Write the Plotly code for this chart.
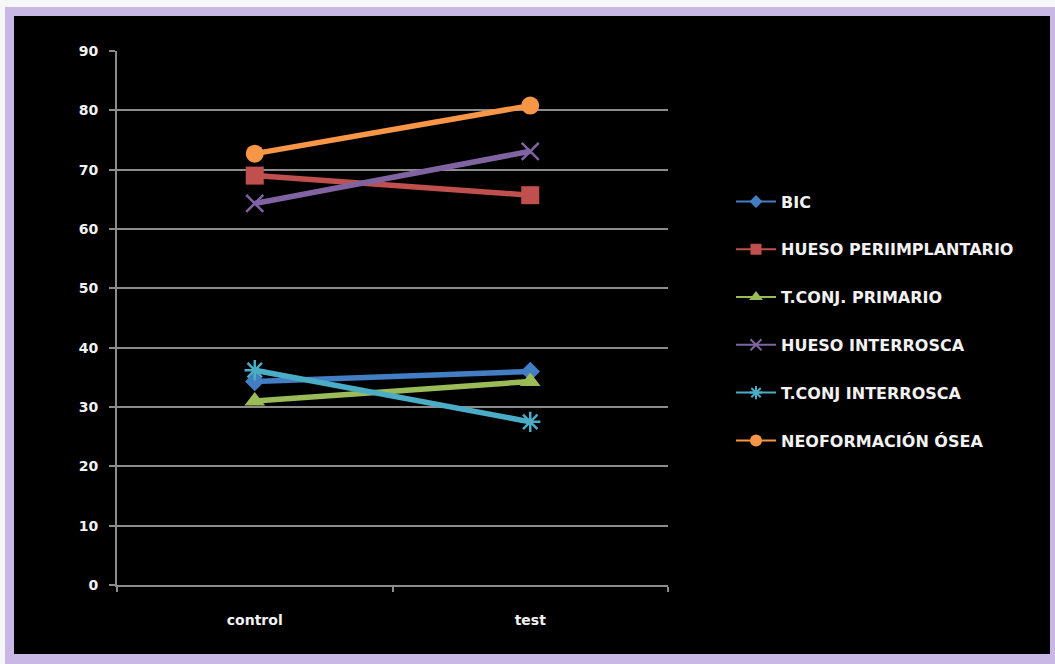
import plotly.graph_objects as go

# Group means for each measured variable
categories = ["control", "test"]
series_names = [
    "BIC",
    "HUESO PERIIMPLANTARIO",
    "T.CONJ. PRIMARIO",
    "HUESO INTERROSCA",
    "T.CONJ INTERROSCA",
    "NEOFORMACIÓN ÓSEA",
]
bic = [34.3, 36.0]
hueso_periimplantario = [69.0, 65.7]
tconj_primario = [31.0, 34.3]
hueso_interrosca = [64.3, 73.1]
tconj_interrosca = [36.2, 27.5]
neoformacion_osea = [72.7, 80.8]
y_ticks = [0, 10, 20, 30, 40, 50, 60, 70, 80, 90]

values = [bic, hueso_periimplantario, tconj_primario,
          hueso_interrosca, tconj_interrosca, neoformacion_osea]
colors = ["#437dc4", "#c0504d", "#9bbb59", "#8064a2", "#4bacc6", "#f79646"]
symbols = ["diamond", "square", "triangle-up", "x-thin-open", "asterisk-open", "circle"]
sizes = [15, 18, 18, 17, 17, 18]
legend_sizes = [10, 11, 12, 11, 11, 12]

fig = go.Figure()

for name, vals, col, sym, sz in zip(series_names, values, colors, symbols, sizes):
    open_sym = sym.endswith("open")
    fig.add_trace(go.Scatter(
        x=categories, y=vals, name=name, mode="lines+markers",
        line=dict(color=col, width=5.5),
        marker=dict(symbol=sym, size=sz, color=col,
                    line=dict(color=col, width=2.5 if open_sym else 0)),
        showlegend=False, legendgroup=name,
    ))

# Legend entries with thin sample lines
for name, col, sym, sz in zip(series_names, colors, symbols, legend_sizes):
    open_sym = sym.endswith("open")
    fig.add_trace(go.Scatter(
        x=[None], y=[None], name=name, mode="lines+markers",
        line=dict(color=col, width=2),
        marker=dict(symbol=sym, size=sz, color=col,
                    line=dict(color=col, width=2 if open_sym else 0)),
        legendgroup=name,
    ))

W, H = 1055, 664
L, R, T, B = 117, 668, 51, 585
pw, ph = R - L, B - T


def px_x(p):
    return (p - L) / pw


def px_y(p):
    return (B - p) / ph


# Slide frame: white edge, lavender border and black chart area
fig.add_shape(type="rect", xref="paper", yref="paper", layer="below",
              x0=px_x(0), x1=px_x(W), y0=px_y(7), y1=px_y(0),
              fillcolor="#f6f7f9", line_width=0)
fig.add_shape(type="rect", xref="paper", yref="paper", layer="below",
              x0=px_x(0), x1=px_x(5), y0=px_y(H), y1=px_y(0),
              fillcolor="#f6f7f9", line_width=0)
fig.add_shape(type="rect", xref="paper", yref="paper", layer="below",
              x0=px_x(14), x1=px_x(1050), y0=px_y(654), y1=px_y(16),
              fillcolor="#000000", line_width=0)

font_txt = dict(family="DejaVu Sans", size=14, color="#f2f2f2", weight="bold")

fig.update_layout(
    width=W, height=H,
    margin=dict(l=L, r=W - R, t=T, b=H - B, pad=0),
    paper_bgcolor="#c9b7e6",
    plot_bgcolor="#404040",
    showlegend=True,
    legend=dict(
        x=px_x(731), xanchor="left", y=px_y(321), yanchor="middle",
        bgcolor="rgba(0,0,0,0)", borderwidth=0,
        font=dict(family="DejaVu Sans", size=16, color="#f2f2f2", weight="bold"),
        tracegroupgap=24, itemwidth=40,
    ),
    xaxis=dict(
        type="category", range=[-0.5, 1.5],
        showgrid=False, zeroline=False,
        showline=True, linecolor="#8c8c8c", linewidth=2,
        ticks="outside", ticklen=5, tickcolor="#8c8c8c", tickwidth=2,
        tickson="boundaries",
        tickfont=font_txt, ticklabelstandoff=21,
    ),
    yaxis=dict(
        range=[0, 90], tickvals=y_ticks,
        showgrid=True, gridcolor="#8c8c8c", gridwidth=2,
        zeroline=False,
        showline=True, linecolor="#8c8c8c", linewidth=2,
        ticks="outside", ticklen=6, tickcolor="#8c8c8c", tickwidth=2,
        tickfont=font_txt, ticklabelstandoff=8,
    ),
)

fig.write_html("out.html")
